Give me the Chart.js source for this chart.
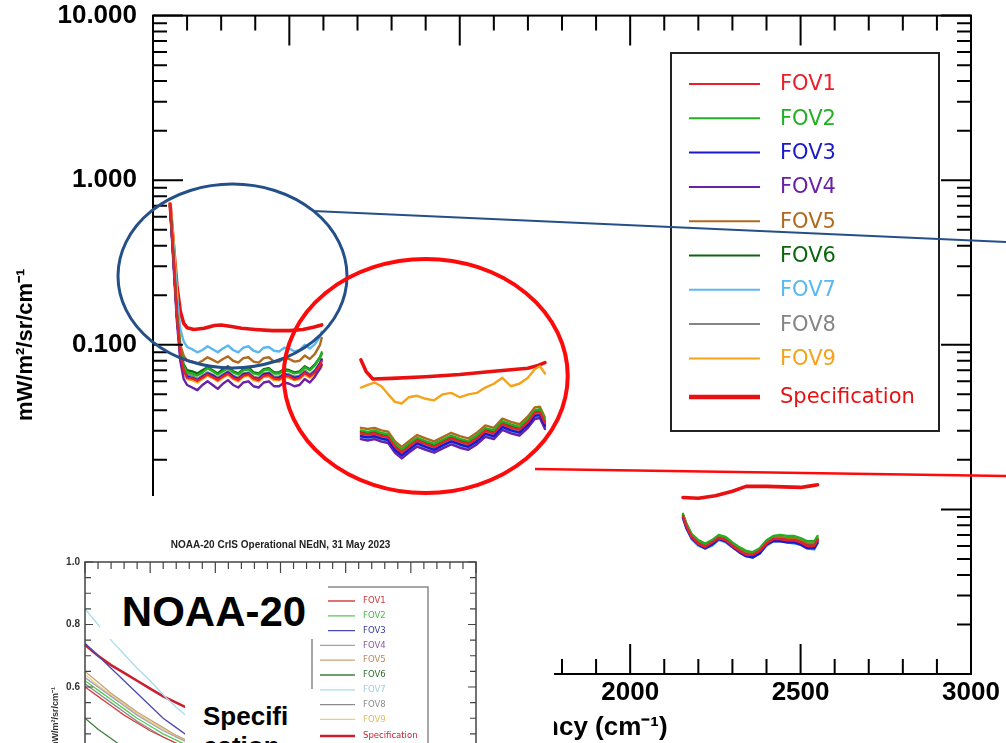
<!DOCTYPE html>
<html>
<head>
<meta charset="utf-8">
<script src="https://cdn.jsdelivr.net/npm/chart.js@4.4.0/dist/chart.umd.min.js"></script>
<style>
html, body { margin: 0; padding: 0; background: #fff; }
#wrap { position: relative; width: 1006px; height: 743px; overflow: hidden; background: #fff; }
#main { position: absolute; left: 0; top: 0; }
#inset { position: absolute; left: 0; top: 496px; width: 554px; height: 247px; background: #fff; overflow: hidden; }
#insetCanvas { position: absolute; left: 0; top: 0; }
.box { position: absolute; background: #fff; }
.big { position: absolute; font-family: "Liberation Sans", Arial, sans-serif; font-weight: bold; color: #000; white-space: nowrap; }
</style>
</head>
<body>
<div id="wrap">
  <canvas id="main" width="1006" height="743"></canvas>
  <div id="inset">
    <canvas id="insetCanvas" width="554" height="420"></canvas>
    <div class="box" style="left:100px; top:79px; width:228px; height:64px;">
      <div class="big" style="left:0; width:228px; text-align:center; top:16px; font-size:42px; line-height:42px;">NOAA-20</div>
    </div>
    <div class="box" style="left:185px; top:193px; width:131px; height:60px;">
      <div class="big" style="left:18px; top:12px; font-size:26px; line-height:30px;">Specifi<br>cation</div>
    </div>
  </div>
</div>
<script>
// ---------- main chart data (NOAA-21 CrIS NEdN, log scale) ----------
const FOV_NAMES = ['FOV1', 'FOV2', 'FOV3', 'FOV4', 'FOV5', 'FOV6', 'FOV7', 'FOV8', 'FOV9'];
const X_MAJOR = [1000, 1500, 2000, 2500, 3000];
const Y_MAJOR = [0.001, 0.01, 0.1, 1, 10];

// longwave band
const LW_X = [650, 660, 670, 680, 690, 700, 715, 730, 745, 760, 775, 790, 805, 820, 835, 850, 865,
  880, 895, 910, 925, 940, 955, 970, 985, 1000, 1015, 1030, 1045, 1060, 1075, 1090, 1095];
const FOV1_LW = [0.72, 0.34, 0.15, 0.088, 0.070, 0.063, 0.0624, 0.0605, 0.063, 0.0662, 0.0636, 0.0611, 0.0643, 0.0668, 0.063, 0.0611, 0.0649,
  0.0662, 0.0624, 0.0611, 0.0649, 0.0655, 0.0624, 0.0617, 0.0649, 0.0643, 0.0617, 0.063, 0.0674, 0.0643, 0.068, 0.0756, 0.0794];
const FOV2_LW = [0.71, 0.35, 0.155, 0.092, 0.074, 0.068, 0.067, 0.065, 0.068, 0.072, 0.069, 0.066, 0.069, 0.072, 0.068, 0.066, 0.070,
  0.071, 0.067, 0.066, 0.070, 0.071, 0.067, 0.067, 0.070, 0.069, 0.067, 0.068, 0.073, 0.070, 0.075, 0.084, 0.090];
const FOV3_LW = [0.70, 0.33, 0.15, 0.088, 0.071, 0.064, 0.063, 0.061, 0.064, 0.067, 0.065, 0.062, 0.065, 0.068, 0.064, 0.062, 0.066,
  0.067, 0.063, 0.062, 0.066, 0.067, 0.063, 0.063, 0.066, 0.065, 0.063, 0.064, 0.068, 0.065, 0.069, 0.077, 0.081];
const FOV4_LW = [0.69, 0.31, 0.14, 0.080, 0.062, 0.057, 0.055, 0.053, 0.057, 0.060, 0.057, 0.054, 0.058, 0.061, 0.057, 0.055, 0.059,
  0.060, 0.056, 0.055, 0.059, 0.060, 0.056, 0.056, 0.059, 0.058, 0.056, 0.057, 0.062, 0.059, 0.064, 0.072, 0.076];
const FOV5_LW = [0.70, 0.35, 0.16, 0.100, 0.086, 0.080, 0.079, 0.077, 0.080, 0.084, 0.081, 0.078, 0.082, 0.085, 0.080, 0.078, 0.083,
  0.084, 0.079, 0.078, 0.083, 0.084, 0.079, 0.079, 0.083, 0.082, 0.079, 0.080, 0.086, 0.082, 0.088, 0.100, 0.110];
const FOV6_LW = [0.70, 0.34, 0.155, 0.094, 0.076, 0.070, 0.069, 0.067, 0.070, 0.073, 0.070, 0.067, 0.071, 0.074, 0.069, 0.067, 0.071,
  0.073, 0.068, 0.067, 0.071, 0.072, 0.068, 0.068, 0.071, 0.070, 0.068, 0.069, 0.074, 0.071, 0.076, 0.084, 0.088];
const FOV7_LW = [0.70, 0.40, 0.20, 0.125, 0.105, 0.097, 0.094, 0.090, 0.093, 0.098, 0.094, 0.090, 0.095, 0.099, 0.093, 0.090, 0.096,
  0.098, 0.092, 0.090, 0.096, 0.097, 0.092, 0.091, 0.096, 0.095, 0.091, 0.093, 0.100, 0.095, 0.101, 0.112, 0.120];
const FOV8_LW = [0.70, 0.33, 0.15, 0.089, 0.072, 0.066, 0.065, 0.062, 0.065, 0.068, 0.066, 0.063, 0.066, 0.069, 0.065, 0.063, 0.067,
  0.068, 0.064, 0.063, 0.067, 0.068, 0.064, 0.064, 0.067, 0.066, 0.064, 0.065, 0.070, 0.066, 0.070, 0.078, 0.082];
const FOV9_LW = [0.73, 0.45, 0.22, 0.100, 0.070, 0.062, 0.061, 0.059, 0.062, 0.065, 0.063, 0.060, 0.063, 0.066, 0.062, 0.060, 0.064,
  0.065, 0.061, 0.060, 0.064, 0.064, 0.061, 0.061, 0.064, 0.063, 0.061, 0.062, 0.066, 0.063, 0.066, 0.071, 0.074];

// midwave band
const MW_X = [1210, 1230, 1250, 1270, 1290, 1310, 1330, 1350, 1375, 1400, 1425, 1450, 1475,
  1500, 1525, 1550, 1575, 1600, 1625, 1650, 1675, 1700, 1720, 1735, 1750];
const FOV1_MW = [0.0290, 0.0285, 0.0290, 0.0280, 0.0275, 0.0240, 0.0222, 0.0240, 0.0262, 0.0250, 0.0240, 0.0255, 0.0270,
  0.0258, 0.0250, 0.0270, 0.0300, 0.0290, 0.0330, 0.0315, 0.0305, 0.0340, 0.0385, 0.0390, 0.0335];
const FOV2_MW = [0.0302, 0.0296, 0.0302, 0.0291, 0.0286, 0.0250, 0.0231, 0.0250, 0.0272, 0.0260, 0.0250, 0.0265, 0.0281,
  0.0268, 0.0260, 0.0281, 0.0312, 0.0302, 0.0343, 0.0328, 0.0317, 0.0354, 0.0400, 0.0406, 0.0348];
const FOV3_MW = [0.0278, 0.0274, 0.0278, 0.0269, 0.0264, 0.0230, 0.0213, 0.0230, 0.0252, 0.0240, 0.0230, 0.0245, 0.0259,
  0.0248, 0.0240, 0.0259, 0.0288, 0.0278, 0.0317, 0.0302, 0.0293, 0.0326, 0.0370, 0.0374, 0.0322];
const FOV4_MW = [0.0267, 0.0262, 0.0267, 0.0258, 0.0253, 0.0221, 0.0204, 0.0221, 0.0241, 0.0230, 0.0221, 0.0235, 0.0248,
  0.0237, 0.0230, 0.0248, 0.0276, 0.0267, 0.0304, 0.0290, 0.0281, 0.0313, 0.0354, 0.0359, 0.0308];
const FOV5_MW = [0.0313, 0.0308, 0.0313, 0.0302, 0.0297, 0.0259, 0.0240, 0.0259, 0.0283, 0.0270, 0.0259, 0.0275, 0.0292,
  0.0279, 0.0270, 0.0292, 0.0324, 0.0313, 0.0356, 0.0340, 0.0329, 0.0367, 0.0416, 0.0421, 0.0362];
const FOV6_MW = [0.0296, 0.0291, 0.0296, 0.0286, 0.0281, 0.0245, 0.0226, 0.0245, 0.0267, 0.0255, 0.0245, 0.0260, 0.0275,
  0.0263, 0.0255, 0.0275, 0.0306, 0.0296, 0.0337, 0.0321, 0.0311, 0.0347, 0.0393, 0.0398, 0.0342];
const FOV7_MW = [0.0273, 0.0268, 0.0273, 0.0263, 0.0259, 0.0226, 0.0209, 0.0226, 0.0246, 0.0235, 0.0226, 0.0240, 0.0254,
  0.0243, 0.0235, 0.0254, 0.0282, 0.0273, 0.0310, 0.0296, 0.0287, 0.0320, 0.0362, 0.0367, 0.0315];
const FOV8_MW = [0.0284, 0.0279, 0.0284, 0.0274, 0.0270, 0.0235, 0.0218, 0.0235, 0.0257, 0.0245, 0.0235, 0.0250, 0.0265,
  0.0253, 0.0245, 0.0265, 0.0294, 0.0284, 0.0323, 0.0309, 0.0299, 0.0333, 0.0377, 0.0382, 0.0328];
const FOV9_MW = [0.055, 0.057, 0.059, 0.056, 0.050, 0.045, 0.044, 0.048, 0.049, 0.047, 0.046, 0.050, 0.051,
  0.048, 0.050, 0.051, 0.055, 0.058, 0.063, 0.056, 0.058, 0.063, 0.071, 0.074, 0.067];

// shortwave band
const SW_X = [2155, 2165, 2180, 2200, 2220, 2240, 2260, 2280, 2300, 2320, 2340, 2360, 2380, 2400,
  2420, 2440, 2460, 2480, 2500, 2520, 2540, 2550];
const FOV1_SW = [0.0091, 0.0079, 0.0068, 0.0062, 0.0059, 0.0063, 0.0067, 0.0065, 0.0060, 0.0056, 0.0053, 0.0053, 0.0056, 0.0062,
  0.0066, 0.0066, 0.0065, 0.0065, 0.0063, 0.0060, 0.0060, 0.0065];
const FOV2_SW = [0.0094, 0.0082, 0.0071, 0.0065, 0.0062, 0.0065, 0.0070, 0.0068, 0.0063, 0.0059, 0.0056, 0.0055, 0.0058, 0.0065,
  0.0069, 0.0070, 0.0069, 0.0069, 0.0067, 0.0064, 0.0064, 0.0069];
const FOV3_SW = [0.0089, 0.0077, 0.0067, 0.0061, 0.0058, 0.0061, 0.0066, 0.0064, 0.0059, 0.0055, 0.0052, 0.0051, 0.0054, 0.0061,
  0.0064, 0.0064, 0.0063, 0.0063, 0.0061, 0.0058, 0.0058, 0.0063];
const FOV4_SW = [0.0090, 0.0078, 0.0068, 0.0062, 0.0059, 0.0062, 0.0067, 0.0065, 0.0060, 0.0056, 0.0053, 0.0052, 0.0055, 0.0062,
  0.0066, 0.0066, 0.0065, 0.0065, 0.0063, 0.0060, 0.0060, 0.0065];
const FOV5_SW = [0.0093, 0.0081, 0.0070, 0.0064, 0.0061, 0.0064, 0.0069, 0.0067, 0.0062, 0.0058, 0.0055, 0.0054, 0.0057, 0.0064,
  0.0068, 0.0068, 0.0067, 0.0067, 0.0065, 0.0062, 0.0062, 0.0067];
const FOV6_SW = [0.0092, 0.0080, 0.0069, 0.0063, 0.0060, 0.0064, 0.0068, 0.0066, 0.0061, 0.0057, 0.0054, 0.0053, 0.0057, 0.0063,
  0.0067, 0.0067, 0.0066, 0.0066, 0.0064, 0.0061, 0.0061, 0.0066];
const FOV7_SW = [0.0088, 0.0077, 0.0066, 0.0060, 0.0058, 0.0060, 0.0065, 0.0063, 0.0059, 0.0055, 0.0052, 0.0051, 0.0054, 0.0060,
  0.0064, 0.0064, 0.0063, 0.0062, 0.0061, 0.0058, 0.0057, 0.0062];
const FOV8_SW = [0.0089, 0.0078, 0.0067, 0.0061, 0.0058, 0.0061, 0.0066, 0.0064, 0.0059, 0.0055, 0.0052, 0.0052, 0.0054, 0.0061,
  0.0065, 0.0065, 0.0064, 0.0064, 0.0062, 0.0059, 0.0059, 0.0064];
const FOV9_SW = [0.0092, 0.0080, 0.0069, 0.0063, 0.0060, 0.0063, 0.0068, 0.0066, 0.0061, 0.0057, 0.0054, 0.0053, 0.0056, 0.0063,
  0.0067, 0.0067, 0.0066, 0.0066, 0.0064, 0.0061, 0.0061, 0.0066];

// specification
const SPEC_LW_X = [650, 660, 670, 680, 690, 700, 720, 750, 780, 800, 830, 860, 900, 950, 1000, 1040, 1070, 1095];
const SPEC_LW = [0.72, 0.40, 0.23, 0.16, 0.135, 0.127, 0.124, 0.126, 0.131, 0.132, 0.129, 0.126, 0.124, 0.122, 0.122, 0.124, 0.128, 0.132];
const SPEC_MW_X = [1210, 1225, 1245, 1300, 1400, 1500, 1600, 1700, 1730, 1750];
const SPEC_MW = [0.081, 0.069, 0.062, 0.0625, 0.064, 0.066, 0.069, 0.072, 0.075, 0.078];
const SPEC_SW_X = [2155, 2200, 2250, 2300, 2340, 2400, 2450, 2500, 2530, 2550];
const SPEC_SW = [0.0118, 0.0117, 0.0121, 0.0129, 0.0138, 0.0138, 0.0137, 0.0136, 0.0139, 0.0141];

// ---------- NOAA-20 inset data ----------
const INSET_X = [650, 670, 690, 710, 730, 750, 770, 790, 810];
const N20_FOV1 = [0.60, 0.57, 0.54, 0.51, 0.485, 0.46, 0.44, 0.42, 0.40];
const N20_FOV2 = [0.62, 0.59, 0.56, 0.53, 0.50, 0.475, 0.45, 0.43, 0.41];
const N20_FOV3 = [0.74, 0.70, 0.66, 0.62, 0.58, 0.54, 0.50, 0.47, 0.44];
const N20_FOV4 = [0.63, 0.60, 0.57, 0.54, 0.51, 0.485, 0.46, 0.44, 0.42];
const N20_FOV5 = [0.65, 0.615, 0.58, 0.55, 0.52, 0.495, 0.47, 0.445, 0.425];
const N20_FOV6 = [0.50, 0.465, 0.435, 0.405, 0.38, 0.36, 0.34, 0.32, 0.30];
const N20_FOV7 = [0.85, 0.80, 0.75, 0.705, 0.66, 0.62, 0.575, 0.535, 0.50];
const N20_FOV8 = [0.61, 0.58, 0.55, 0.52, 0.49, 0.465, 0.44, 0.42, 0.40];
const N20_FOV9 = [0.64, 0.605, 0.575, 0.545, 0.515, 0.49, 0.465, 0.44, 0.42];
const N20_SPEC = [0.735, 0.70, 0.67, 0.645, 0.62, 0.595, 0.57, 0.55, 0.53];
const INSET_Y_MAJOR = [0, 0.2, 0.4, 0.6, 0.8, 1.0];

// ---------- styles ----------
const MAIN_COLORS = ['#e8202a', '#22b022', '#1a1acc', '#6a20a8', '#b06a1e', '#0d660d', '#5ab8f0', '#858585', '#f5a31a'];
const SPEC_COLOR = '#e81010';
const INSET_COLORS = ['#d84040', '#55cc55', '#4a4ab0', '#a79bb5', '#c9a27a', '#3f7f3f', '#a9dcec', '#8c8c8c', '#e6d27a'];
const INSET_TEXT = ['#c83a3a', '#44bb44', '#3a3aa0', '#8a5aa8', '#b98a5a', '#2f6f2f', '#9ccfe0', '#8c8c8c', '#dcc060'];
const INSET_SPEC = '#c8202e';
const BOLD = '"Liberation Sans", Arial, sans-serif';

function pts(xs, ys) {
    return xs.map((x, i) => ({ x: x, y: ys[i] }));
}
function joinBands(bands) {
    const out = [];
    bands.forEach((b, k) => {
        if (k) out.push({ x: b[0].x - 1, y: null });
        out.push(...b);
    });
    return out;
}

const FOV_LW = [FOV1_LW, FOV2_LW, FOV3_LW, FOV4_LW, FOV5_LW, FOV6_LW, FOV7_LW, FOV8_LW, FOV9_LW];
const FOV_MW = [FOV1_MW, FOV2_MW, FOV3_MW, FOV4_MW, FOV5_MW, FOV6_MW, FOV7_MW, FOV8_MW, FOV9_MW];
const FOV_SW = [FOV1_SW, FOV2_SW, FOV3_SW, FOV4_SW, FOV5_SW, FOV6_SW, FOV7_SW, FOV8_SW, FOV9_SW];

const mainSets = FOV_NAMES.map((name, i) => ({
    label: name,
    data: joinBands([pts(LW_X, FOV_LW[i]), pts(MW_X, FOV_MW[i]), pts(SW_X, FOV_SW[i])]),
    borderColor: MAIN_COLORS[i],
    borderWidth: 2.4,
    pointRadius: 0,
    spanGaps: false
}));
mainSets.push({
    label: 'Specification',
    data: joinBands([pts(SPEC_LW_X, SPEC_LW), pts(SPEC_MW_X, SPEC_MW), pts(SPEC_SW_X, SPEC_SW)]),
    borderColor: SPEC_COLOR,
    borderWidth: 3.6,
    pointRadius: 0,
    spanGaps: false
});

// frame + inward tick marks on all four sides
function frameTicks(id, o) {
    return {
        id: id,
        afterDraw(chart) {
            const { ctx, chartArea: a, scales: { x, y } } = chart;
            ctx.save();
            ctx.strokeStyle = o.color;
            ctx.lineWidth = o.tickWidth;
            ctx.beginPath();
            const xt = (v, len) => {
                const p = x.getPixelForValue(v);
                ctx.moveTo(p, a.bottom); ctx.lineTo(p, a.bottom - len);
                ctx.moveTo(p, a.top); ctx.lineTo(p, a.top + len);
            };
            const yt = (v, len) => {
                const p = y.getPixelForValue(v);
                ctx.moveTo(a.left, p); ctx.lineTo(a.left + len, p);
                ctx.moveTo(a.right, p); ctx.lineTo(a.right - len, p);
            };
            o.xMinor.forEach(v => xt(v, o.xMinorLen));
            o.xMajor.forEach(v => xt(v, o.xMajorLen));
            o.yMinor.forEach(v => yt(v, o.yMinorLen));
            o.yMajor.forEach(v => yt(v, o.yMajorLen));
            ctx.stroke();
            ctx.lineWidth = o.frameWidth;
            ctx.strokeRect(a.left, a.top, a.right - a.left, a.bottom - a.top);
            ctx.restore();
        }
    };
}

const mainXMinor = [];
for (let v = 700; v < 3000; v += 100) if (v % 500) mainXMinor.push(v);
const mainYMinor = [];
[0.001, 0.01, 0.1, 1].forEach(d => { for (let m = 2; m <= 9; m++) mainYMinor.push(m * d); });

const mainLegend = {
    id: 'mainLegend',
    afterDraw(chart) {
        const ctx = chart.ctx;
        ctx.save();
        ctx.fillStyle = '#fff';
        ctx.fillRect(671, 53, 268, 378);
        ctx.strokeStyle = '#222';
        ctx.lineWidth = 2;
        ctx.strokeRect(671, 53, 268, 378);
        ctx.font = '21px "DejaVu Sans", sans-serif';
        ctx.textBaseline = 'middle';
        chart.data.datasets.forEach((ds, i) => {
            const ry = i < 9 ? 84 + i * 34.3 : 397;
            ctx.strokeStyle = ds.borderColor;
            ctx.lineWidth = i < 9 ? 2 : 4.5;
            ctx.beginPath();
            ctx.moveTo(689, ry); ctx.lineTo(760, ry);
            ctx.stroke();
            ctx.fillStyle = ds.borderColor;
            ctx.fillText(ds.label, 780, ry + 1);
        });
        ctx.restore();
    }
};

const callouts = {
    id: 'callouts',
    afterDraw(chart) {
        const ctx = chart.ctx;
        ctx.save();
        ctx.strokeStyle = '#24508a';
        ctx.lineWidth = 3;
        ctx.beginPath();
        ctx.ellipse(232.5, 276, 114.5, 92, 0, 0, Math.PI * 2);
        ctx.stroke();
        ctx.lineWidth = 2;
        ctx.beginPath();
        ctx.moveTo(313, 211); ctx.lineTo(1006, 242);
        ctx.stroke();
        ctx.strokeStyle = '#ff0a0a';
        ctx.lineWidth = 4;
        ctx.beginPath();
        ctx.ellipse(425.7, 376, 142, 117, 0, 0, Math.PI * 2);
        ctx.stroke();
        ctx.lineWidth = 2.5;
        ctx.beginPath();
        ctx.moveTo(535, 469); ctx.lineTo(1006, 476);
        ctx.stroke();
        ctx.restore();
    }
};

const bigFont = { family: BOLD, size: 26, weight: 'bold' };

new Chart(document.getElementById('main'), {
    type: 'line',
    data: { datasets: mainSets },
    options: {
        responsive: false,
        animation: false,
        layout: { padding: { top: 0, right: 35, left: 0, bottom: 0 } },
        plugins: { legend: { display: false }, tooltip: { enabled: false }, title: { display: false } },
        elements: { line: { tension: 0, borderJoinStyle: 'round', borderCapStyle: 'round' } },
        scales: {
            x: {
                type: 'linear', min: 600, max: 3000,
                afterBuildTicks: s => { s.ticks = X_MAJOR.map(v => ({ value: v })); },
                afterFit: s => { s.height = 69; },
                grid: { display: false, drawTicks: false },
                border: { display: false },
                ticks: { font: bigFont, color: '#000', padding: 3, maxRotation: 0, autoSkip: false, callback: v => String(v) },
                title: { display: true, text: 'Frequency (cm⁻¹)', font: bigFont, color: '#000', padding: 0 }
            },
            y: {
                type: 'logarithmic', min: 0.001, max: 10,
                afterBuildTicks: s => { s.ticks = Y_MAJOR.map(v => ({ value: v })); },
                afterFit: s => { s.width = 153; },
                grid: { display: false, drawTicks: true, tickLength: 16 },
                border: { display: false },
                ticks: { font: bigFont, color: '#000', padding: 0, autoSkip: false, callback: v => Number(v).toFixed(3) },
                title: { display: true, text: 'mW/m²/sr/cm⁻¹', font: { family: BOLD, size: 22, weight: 'bold' }, color: '#000', padding: { top: 13, bottom: 0 } }
            }
        }
    },
    plugins: [
        frameTicks('mainFrame', {
            color: '#000', tickWidth: 2, frameWidth: 2,
            xMinor: mainXMinor, xMajor: X_MAJOR, xMinorLen: 15, xMajorLen: 30,
            yMinor: mainYMinor, yMajor: Y_MAJOR, yMinorLen: 14, yMajorLen: 30
        }),
        mainLegend,
        callouts
    ]
});

// ---------- NOAA-20 inset ----------
const N20_SERIES = [N20_FOV1, N20_FOV2, N20_FOV3, N20_FOV4, N20_FOV5, N20_FOV6, N20_FOV7, N20_FOV8, N20_FOV9];
const insetSets = FOV_NAMES.map((name, i) => ({
    label: name,
    data: pts(INSET_X, N20_SERIES[i]),
    borderColor: INSET_COLORS[i],
    borderWidth: 1.3,
    pointRadius: 0
}));
insetSets.push({ label: 'Specification', data: pts(INSET_X, N20_SPEC), borderColor: INSET_SPEC, borderWidth: 2.6, pointRadius: 0 });

const insetXMinor = [], insetXMajor = [];
for (let v = 650; v <= 1250; v += 20) ((v - 650) % 100 ? insetXMinor : insetXMajor).push(v);
const insetYMinor = [0.05, 0.1, 0.15, 0.25, 0.3, 0.35, 0.45, 0.5, 0.55, 0.65, 0.7, 0.75, 0.85, 0.9, 0.95];

const insetExtras = {
    id: 'insetExtras',
    afterDraw(chart) {
        const ctx = chart.ctx;
        const a = chart.chartArea;
        ctx.save();
        ctx.fillStyle = '#222';
        ctx.font = 'bold 10px ' + BOLD;
        ctx.textAlign = 'center';
        ctx.textBaseline = 'middle';
        ctx.fillText('NOAA-20 CrIS Operational NEdN, 31 May 2023', (a.left + a.right) / 2, 49);
        // legend
        ctx.strokeStyle = '#8a8a8a';
        ctx.lineWidth = 1.5;
        ctx.fillStyle = '#fff';
        ctx.fillRect(312, 91, 116, 170);
        ctx.beginPath();
        ctx.moveTo(312, 260); ctx.lineTo(312, 91); ctx.lineTo(428, 91); ctx.lineTo(428, 260);
        ctx.stroke();
        ctx.textAlign = 'left';
        ctx.font = '8.5px "DejaVu Sans", sans-serif';
        chart.data.datasets.forEach((ds, i) => {
            const ry = i < 9 ? 105 + i * 14.8 : 240;
            ctx.strokeStyle = ds.borderColor;
            ctx.lineWidth = i < 9 ? 1.3 : 2.6;
            ctx.beginPath();
            ctx.moveTo(320, ry); ctx.lineTo(355, ry);
            ctx.stroke();
            ctx.fillStyle = i < 9 ? INSET_TEXT[i] : INSET_SPEC;
            ctx.fillText(ds.label, 363, ry);
        });
        ctx.restore();
    }
};

new Chart(document.getElementById('insetCanvas'), {
    type: 'line',
    data: { datasets: insetSets },
    options: {
        responsive: false,
        animation: false,
        layout: { padding: { top: 66, right: 78, left: 0, bottom: 0 } },
        plugins: { legend: { display: false }, tooltip: { enabled: false } },
        scales: {
            x: {
                type: 'linear', min: 650, max: 1250,
                afterFit: s => { s.height = 41.5; },
                grid: { display: false, drawTicks: false },
                border: { display: false },
                ticks: { display: false }
            },
            y: {
                type: 'linear', min: 0, max: 1,
                afterBuildTicks: s => { s.ticks = INSET_Y_MAJOR.map(v => ({ value: v })); },
                afterFit: s => { s.width = 85; },
                grid: { display: false, drawTicks: false },
                border: { display: false },
                ticks: { font: { family: BOLD, size: 10, weight: 'bold' }, color: '#333', padding: 5, callback: v => Number(v).toFixed(1) },
                title: { display: true, text: 'mW/m²/sr/cm⁻¹', font: { family: BOLD, size: 9, weight: 'bold' }, color: '#333', padding: { top: 50, bottom: 0 } }
            }
        }
    },
    plugins: [
        frameTicks('insetFrame', {
            color: '#444', tickWidth: 1.2, frameWidth: 1.5,
            xMinor: insetXMinor, xMajor: insetXMajor, xMinorLen: 7, xMajorLen: 11,
            yMinor: insetYMinor, yMajor: INSET_Y_MAJOR, yMinorLen: 6, yMajorLen: 8
        }),
        insetExtras
    ]
});
</script>
</body>
</html>
